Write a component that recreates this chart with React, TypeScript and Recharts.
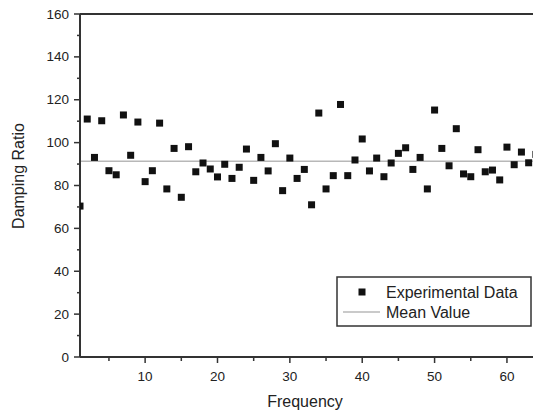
import React from 'react'
import {
  ScatterChart, Scatter, XAxis, YAxis, ReferenceLine, Label,
} from 'recharts'

const frequency = [
  1, 2, 3, 4, 5, 6, 7, 8, 9, 10, 11, 12, 13, 14, 15, 16,
  17, 18, 19, 20, 21, 22, 23, 24, 25, 26, 27, 28, 29, 30, 31, 32,
  33, 34, 35, 36, 37, 38, 39, 40, 41, 42, 43, 44, 45, 46, 47, 48,
  49, 50, 51, 52, 53, 54, 55, 56, 57, 58, 59, 60, 61, 62, 63, 64,
]
const dampingRatio = [
  70.4, 111, 93.1, 110.2, 86.9, 85, 112.9, 94.1, 109.6, 81.8, 86.9, 109.1, 78.4, 97.3, 74.5, 98.1,
  86.4, 90.5, 87.7, 84, 89.9, 83.3, 88.5, 97, 82.4, 93.1, 86.8, 99.5, 77.6, 92.8, 83.3, 87.5,
  71, 113.8, 78.4, 84.6, 117.8, 84.6, 91.9, 101.7, 86.8, 92.8, 84.1, 90.5, 95, 97.6, 87.5, 93.1,
  78.4, 115.2, 97.3, 89.2, 106.5, 85.4, 84.1, 96.7, 86.4, 87.2, 82.6, 97.9, 89.7, 95.6, 90.6, 94.5,
]
const meanValue = 91.3

const xTicks = [5, 10, 15, 20, 25, 30, 35, 40, 45, 50, 55, 60]
const yTicks = [0, 10, 20, 30, 40, 50, 60, 70, 80, 90, 100, 110, 120, 130, 140, 150, 160]

const points = frequency.map((f, i) => ({ f, v: dampingRatio[i] }))

const FONT = '"Liberation Sans", Arial, sans-serif'
const AXIS = '#333'
const TEXT = '#222'

const XTick = (p: any) => {
  const major = p.payload.value % 10 === 0
  return (
    <g>
      <line x1={p.x} x2={p.x} y1={p.y} y2={p.y + (major ? 6 : 4)} stroke={AXIS} strokeWidth={1.5} />
      {major && (
        <text x={p.x} y={p.y + 19} textAnchor="middle" dominantBaseline="central"
          fontSize={13.5} fill={TEXT} fontFamily={FONT}>{p.payload.value}</text>
      )}
    </g>
  )
}

const YTick = (p: any) => {
  const major = p.payload.value % 20 === 0
  return (
    <g>
      <line x1={p.x - (major ? 6 : 3)} x2={p.x} y1={p.y} y2={p.y} stroke={AXIS} strokeWidth={1.5} />
      {major && (
        <text x={p.x - 11} y={p.y} textAnchor="end" dominantBaseline="central"
          fontSize={13.5} fill={TEXT} fontFamily={FONT}>{p.payload.value}</text>
      )}
    </g>
  )
}

const Square = (p: any) => (
  <rect x={p.cx - 3.5} y={p.cy - 3.5} width={7} height={7} fill="#111" />
)

export default function App() {
  return (
    <div style={{ position: 'absolute', left: 0, top: 0, width: 533, height: 414, background: '#fff', fontFamily: FONT }}>
      <ScatterChart width={533} height={414} margin={{ top: 14, right: 0, bottom: 0, left: 0 }}>
        <XAxis
          type="number" dataKey="f" domain={[1, 63.6]} allowDataOverflow
          ticks={xTicks} interval={0} height={57}
          tickSize={0} tickMargin={0} tickLine={false}
          stroke={AXIS} strokeWidth={2} tick={<XTick />}
        >
          <Label
            content={() => (
              <text x={305} y={401} textAnchor="middle" dominantBaseline="central"
                fontSize={16} fill={TEXT} fontFamily={FONT}>Frequency</text>
            )}
          />
        </XAxis>
        <YAxis
          type="number" dataKey="v" domain={[0, 160]} allowDataOverflow
          ticks={yTicks} interval={0} width={80}
          tickSize={0} tickMargin={0} tickLine={false}
          stroke={AXIS} strokeWidth={2} tick={<YTick />}
        >
          <Label
            content={() => (
              <text x={18} y={176} transform="rotate(-90 18 176)" textAnchor="middle"
                dominantBaseline="central" fontSize={16} fill={TEXT} fontFamily={FONT}>Damping Ratio</text>
            )}
          />
        </YAxis>
        <ReferenceLine y={160} stroke={AXIS} strokeWidth={2} />
        <ReferenceLine y={meanValue} stroke="#b8b8b8" strokeWidth={1.5} />
        <Scatter data={points} shape={<Square />} isAnimationActive={false} />
      </ScatterChart>

      {/* legend box */}
      <svg width={196} height={51} style={{ position: 'absolute', left: 336, top: 276 }}>
        <rect x={1} y={1} width={194} height={49} fill="#fff" stroke={AXIS} strokeWidth={1.5} />
        <rect x={22.5} y={12.5} width={7} height={7} fill="#111" />
        <text x={50} y={16} dominantBaseline="central" fontSize={16} fill={TEXT} fontFamily={FONT}>Experimental Data</text>
        <line x1={7} x2={44} y1={36} y2={36} stroke="#b8b8b8" strokeWidth={1.5} />
        <text x={50} y={36} dominantBaseline="central" fontSize={16} fill={TEXT} fontFamily={FONT}>Mean Value</text>
      </svg>
    </div>
  )
}
